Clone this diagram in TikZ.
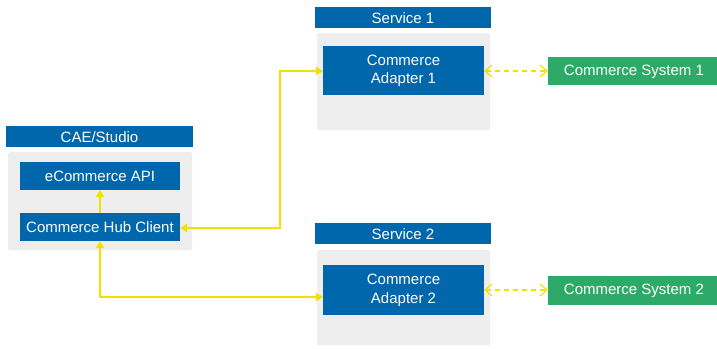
\documentclass[tikz,border=0pt]{standalone}
\usepackage{fontspec}
\setmainfont{Liberation Sans}
\usetikzlibrary{arrows.meta}
\definecolor{hdrblue}{HTML}{0067AC}
\definecolor{sysgreen}{HTML}{2EAA68}
\definecolor{panelgray}{HTML}{EEEEEE}
\definecolor{linkyellow}{HTML}{F2E000}
\begin{document}
\begin{tikzpicture}[x=1pt,y=-1pt,
  txt/.style={font=\fontsize{15}{18.5}\selectfont, text=white, align=center},
  hdr/.style={fill=hdrblue, draw=none},
  panel/.style={fill=panelgray, draw=none, rounded corners=1.5pt},
  blk/.style={fill=hdrblue, draw=none},
  sys/.style={fill=sysgreen, draw=none},
  link/.style={draw=linkyellow, line width=1.6pt, {Triangle[length=7pt,width=8pt]}-{Triangle[length=7pt,width=8pt]}},
  uplink/.style={draw=linkyellow, line width=1.6pt, -{Triangle[length=7pt,width=8pt]}},
  dlink/.style={draw=linkyellow, line width=1.2pt, dash pattern=on 5pt off 4pt, {Straight Barb[length=7pt,width=12pt]}-{Straight Barb[length=7pt,width=12pt]}}
]
\useasboundingbox (0,0) rectangle (717,348);
% CAE/Studio
\fill[hdr] (6,126) rectangle (193,147);
\node[txt] (caeh) at (99.5,137) {CAE/Studio};
\fill[panel] (8,152) rectangle (192,250);
\fill[blk] (20,162) rectangle (180,190);
\node[txt] (api) at (100,176.5) {eCommerce API};
\fill[blk] (20,213) rectangle (180,241);
\node[txt] (hub) at (100,227.5) {Commerce Hub Client};
\coordinate (apiB) at (100,190);
\coordinate (hubT) at (100,213);
\coordinate (hubR) at (180,228);
\coordinate (hubB) at (100,241);
% Service 1
\fill[hdr] (315,7) rectangle (491,28);
\node[txt] (s1h) at (403,18) {Service 1};
\fill[panel] (317,33) rectangle (490,130);
\fill[blk] (323,46) rectangle (484,95);
\node[txt] (ad1) at (403.5,71) {Commerce\\Adapter 1};
\coordinate (ad1L) at (323,71);
\coordinate (ad1R) at (484,71);
% Service 2
\fill[hdr] (315,223) rectangle (491,244);
\node[txt] (s2h) at (403,234) {Service 2};
\fill[panel] (317,250) rectangle (490,345);
\fill[blk] (323,265) rectangle (484,315);
\node[txt] (ad2) at (403.5,290.5) {Commerce\\Adapter 2};
\coordinate (ad2L) at (323,297);
\coordinate (ad2R) at (484,290);
% Systems
\fill[sys] (548,57) rectangle (717,85);
\node[txt] (cs1) at (634,71.5) {Commerce System 1};
\coordinate (cs1L) at (548,71);
\fill[sys] (548,276) rectangle (717,305);
\node[txt] (cs2) at (634,291) {Commerce System 2};
\coordinate (cs2L) at (548,290);
% links
\draw[uplink] (hubT) -- (apiB);
\draw[link] (hubR) -- (280,228) -- (280,71) -- (ad1L);
\draw[link] (hubB) -- (100,297) -- (ad2L);
\draw[dlink] (ad1R) -- (cs1L);
\draw[dlink] (ad2R) -- (cs2L);
\end{tikzpicture}
\end{document}
